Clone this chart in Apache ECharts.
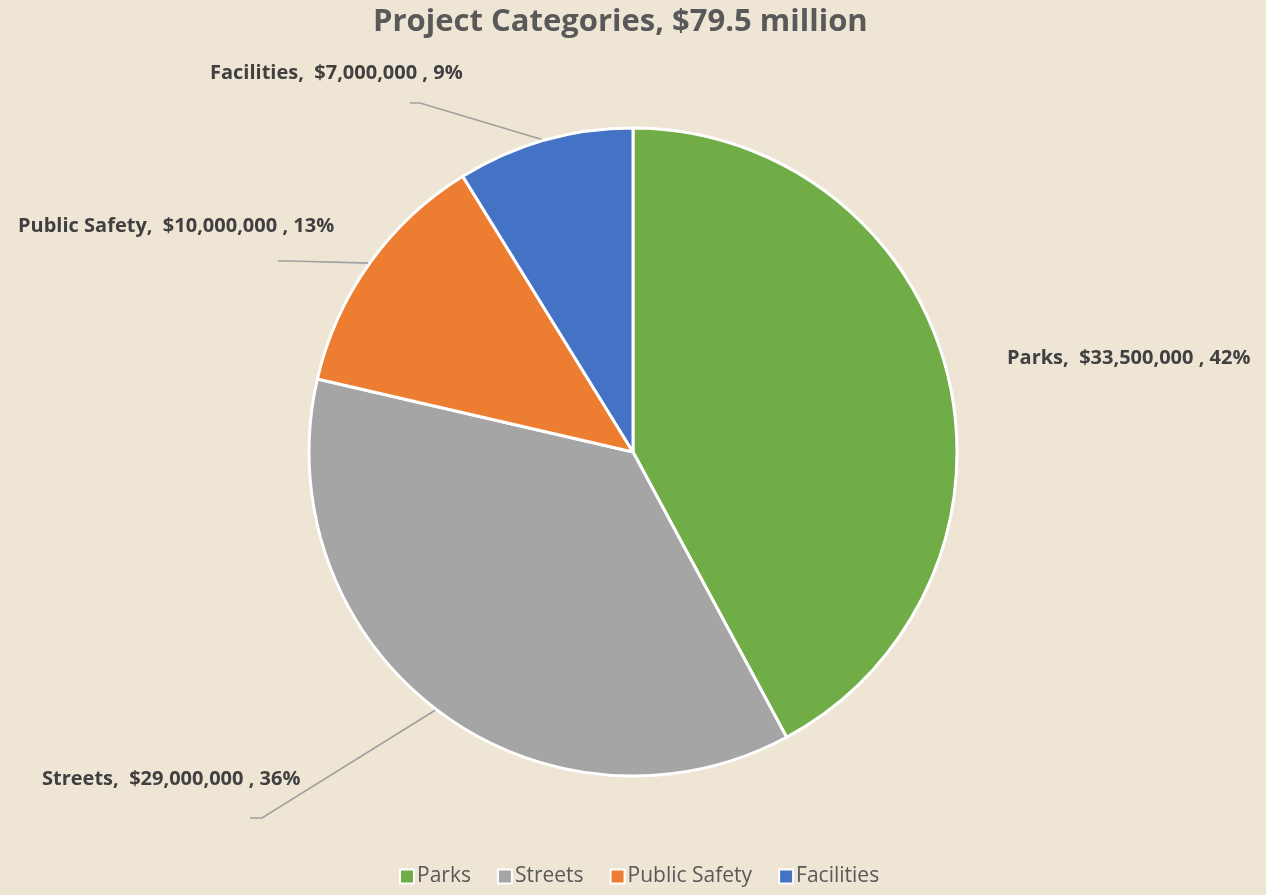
<!DOCTYPE html>
<html>
<head>
<meta charset="utf-8">
<script src="https://cdn.jsdelivr.net/npm/echarts@6/dist/echarts.min.js"></script>
<style>
  html, body { margin: 0; padding: 0; background: #eee5d5; }
  #chart { width: 1266px; height: 895px; }
</style>
</head>
<body>
<div id="chart"></div>
<script>
const categories = ['Parks', 'Streets', 'Public Safety', 'Facilities']
const amounts = [33500000, 29000000, 10000000, 7000000]
const percents = ['42%', '36%', '13%', '9%']
const colors = ['#70ad47', '#a5a5a5', '#ed7d31', '#4472c4']

// label anchor spots (left edge, vertical middle) and leader bends, like the excel chart
const labelSpots = [[1007, 358], [42, 779], [18, 226], [210, 73]]
const leaderEnds = [null, [[262, 818], [250, 818]], [[290, 261], [278, 261]], [[420, 103], [410, 103]]]

const cx = 633, cy = 452, r = 324
const total = amounts.reduce((a, b) => a + b, 0)

const fmt = (v) => '$' + v.toLocaleString('en-US')

const chart = echarts.init(document.getElementById('chart'))

// edge point at the middle of each slice (clockwise from 12 o'clock)
const edgePoint = (idx) => {
  let before = 0
  for (let i = 0; i < idx; i++) before += amounts[i]
  const mid = (before + amounts[idx] / 2) / total * Math.PI * 2
  return [cx + r * Math.sin(mid), cy - r * Math.cos(mid)]
}

chart.setOption({
  backgroundColor: '#eee5d5',
  title: {
    text: 'Project Categories, $79.5 million',
    left: 368,
    top: 2,
    textStyle: {
      fontFamily: 'Open Sans',
      fontWeight: 'bold',
      fontSize: 31,
      color: '#595959'
    }
  },
  legend: {
    bottom: 3,
    left: 394,
    icon: 'rect',
    itemWidth: 14,
    itemHeight: 14,
    itemGap: 26,
    itemStyle: { borderColor: '#ffffff', borderWidth: 2 },
    textStyle: { fontFamily: 'Open Sans', fontSize: 21, color: '#595959', padding: [0, 0, 0, -2] },
    data: categories
  },
  series: [
    {
      type: 'pie',
      center: [cx, cy],
      radius: r,
      startAngle: 90,
      clockwise: true,
      silent: true,
      itemStyle: { borderColor: '#ffffff', borderWidth: 3 },
      label: {
        show: true,
        position: 'outside',
        overflow: 'none',
        fontFamily: 'Open Sans',
        fontWeight: 'bold',
        fontSize: 20,
        color: '#404040',
        formatter: (p) => p.name + ',  ' + fmt(p.value) + ' , ' + percents[p.dataIndex]
      },
      labelLine: {
        show: true,
        lineStyle: { color: '#a0a0a0', width: 1.6 }
      },
      labelLayout: (params) => {
        const i = params.dataIndex
        const out = {
          x: labelSpots[i][0],
          y: labelSpots[i][1],
          align: 'left',
          verticalAlign: 'middle',
          fontSize: 20
        }
        if (leaderEnds[i]) {
          out.labelLinePoints = [edgePoint(i), leaderEnds[i][0], leaderEnds[i][1]]
        } else {
          const p = edgePoint(i)
          out.labelLinePoints = [p, p, p]
        }
        return out
      },
      data: categories.map((c, i) => ({
        name: c,
        value: amounts[i],
        itemStyle: { color: colors[i] }
      }))
    }
  ]
})
</script>
</body>
</html>
